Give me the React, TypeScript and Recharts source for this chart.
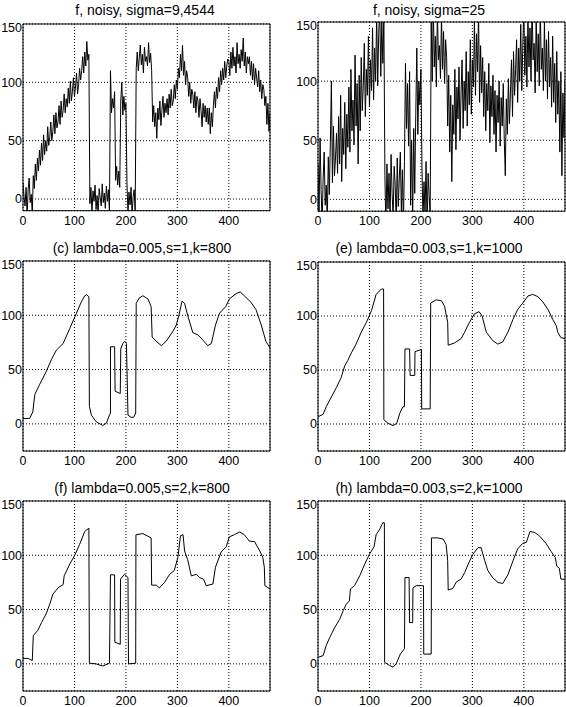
import { LineChart, Line, XAxis, YAxis, CartesianGrid, ReferenceArea } from 'recharts';

// noisy signals, sampled every 2 units on x (0..480)
const noisyStep = 2;
const noisyLow = [
  14, 2, -6, 10, -14, 8, 18, -3, 4, -12, 20, 9, 30, 16, 35, 24, 42, 29, 48, 33,
  55, 38, 50, 41, 62, 46, 53, 66, 50, 58, 72, 56, 74, 61, 66, 80, 64, 84, 70, 76,
  90, 74, 86, 79, 95, 82, 101, 84, 92, 104, 88, 96, 108, 90, 98, 112, 102, 110, 122, 108,
  126, 114, 135, 119, 124, -4, 10, -12, 7, -2, 12, -9, 3, -14, 9, 1, -6, 13, -3, 5,
  -8, 11, -2, 8, -11, 110, 74, 86, 78, 92, 16, 28, 12, 24, 10, 84, 100, 72, 88, 76,
  82, 14, -12, 6, -5, 10, -14, 2, 8, -11, 112, 126, 110, 121, 132, 115, 124, 108, 130, 118,
  122, 114, 134, 117, 125, 110, 66, 80, 62, 74, 52, 78, 68, 84, 63, 76, 88, 70, 82, 74,
  86, 72, 90, 78, 94, 80, 84, 98, 86, 102, 94, 112, 104, 124, 110, 132, 106, 118, 98, 110,
  104, 88, 100, 82, 94, 90, 78, 92, 74, 88, 84, 70, 86, 76, 62, 82, 70, 80, 66, 78,
  64, 78, 56, 74, 62, 80, 92, 78, 96, 86, 104, 92, 110, 98, 112, 102, 118, 104, 114, 120,
  118, 106, 126, 112, 130, 114, 122, 108, 134, 116, 124, 112, 128, 118, 138, 114, 126, 108, 122, 116,
  122, 106, 118, 102, 116, 98, 112, 104, 96, 110, 92, 102, 86, 98, 94, 80, 88, 64, 82, 58,
  74,
];
const noisyHigh = [
  30, -15, 52, 8, -22, 18, 40, -5, 12, -18, 36, 4, 48, 100, 14, 62, 20, 35, 56, 22,
  70, 30, 88, 15, 60, 38, 82, 26, 72, 44, 95, 40, 110, 58, 84, 46, 122, 62, 98, 30,
  105, 58, 120, 75, 96, 132, 70, 110, 88, 138, 78, 118, 92, 145, 84, 128, 100, 158, 96, 140,
  162, 104, 150, 115, 155, 20, -25, 30, -8, 22, -18, 38, 5, -15, 28, 12, -20, 35, -6, 18,
  40, -12, 25, -22, 32, 115, 60, 98, 45, 108, -5, 50, -15, 60, 5, 72, 128, 55, 100, 80,
  110, 28, -18, 15, -12, 32, -25, 22, 3, -14, 150, 100, 165, 112, 138, 95, 160, 118, 130, 102,
  155, 110, 142, 98, 135, 120, 62, 105, 40, 88, 15, 80, 55, 110, 42, 95, 68, 112, 50, 90,
  118, 60, 100, 75, 125, 62, 108, 80, 135, 72, 118, 95, 152, 88, 140, 108, 158, 82, 130, 90,
  120, 70, 108, 58, 98, 75, 115, 48, 96, 70, 105, 55, 92, 40, 88, 65, 100, 45, 86, 62,
  98, 50, 20, 85, 55, 102, 64, 90, 118, 70, 125, 88, 110, 135, 82, 128, 100, 148, 92, 130,
  160, 105, 138, 95, 155, 112, 145, 100, 168, 118, 132, 90, 155, 108, 140, 96, 162, 110, 128, 92,
  150, 100, 135, 85, 142, 95, 120, 78, 138, 82, 115, 65, 125, 72, 100, 40, 108, 20, 90, 52,
  100,
];

// smoothed results
const cX = [0, 13, 19, 23, 32, 45, 55, 65, 78, 91, 104, 113, 120, 124, 128, 129, 133, 142, 155, 162, 168, 170, 170, 178, 179, 189, 190, 194, 198, 201, 204, 210, 215, 219, 220, 226, 233, 243, 249, 251, 259, 269, 278, 291, 298, 303, 309, 314, 320, 330, 340, 350, 359, 366, 374, 382, 394, 401, 414, 422, 430, 443, 453, 463, 472, 480];
const cY = [5, 5, 11, 27, 36, 48, 59, 68, 74, 88, 102, 112, 118, 119, 117, 16, 8, 2, -1.5, 0.6, 8, 10, 71, 71, 30, 28, 69, 74, 76, 74, 8, 6, 6, 10, 111, 116, 118, 115, 108, 80, 76, 72, 76, 85, 91, 100, 113, 111, 100, 84, 82, 77, 72, 74, 91, 102, 108, 115, 120, 121.5, 118, 112, 105, 91, 76, 70];

const eX = [0, 10, 16, 26, 36, 45, 52, 58, 65, 74, 84, 94, 104, 113, 123, 127.5, 128, 136, 146, 153, 159, 165, 168, 169, 178, 179, 188, 188.5, 201, 201.5, 218, 219, 230, 240, 246, 252, 253, 265, 278, 285, 293, 304, 313, 319, 327, 340, 349.5, 359, 369, 379, 388, 398, 408, 417, 427, 437, 447, 456, 463, 466, 472, 480];
const eY = [6.7, 9, 16, 25, 34, 43, 54, 59, 66, 74, 85, 94, 105, 120, 125, 125, 4, 0.6, -1.5, 0.6, 10, 16, 16, 69.5, 69.5, 45, 45, 67, 69, 14, 14, 112, 115, 114, 109, 94, 73, 75, 79, 85, 93, 102, 104, 100, 85, 77, 74, 76, 85, 97, 106, 112, 118.5, 120, 118, 113, 106, 97, 91, 85, 80, 79];

const fX = [0, 10, 18, 20, 29, 36, 45, 52, 58, 68, 78, 80, 91, 100, 110, 120, 128, 129, 142, 155, 168, 170, 178, 178.5, 189, 189.5, 197, 204, 205, 219, 219.5, 233, 249, 250, 259, 265, 275, 285, 294, 301, 306, 311, 314, 320, 327, 337, 343, 351, 356, 369, 374, 385, 395, 401, 411, 421, 430, 440, 450, 460, 466, 469, 470, 480];
const fY = [5, 5, 3, 26, 31, 38, 46, 55, 64, 70, 73, 81, 92, 99.5, 110, 122, 125, 0.6, 0, -2, 0.6, 82, 82, 20, 18, 78, 82.5, 79.5, 0, 0.6, 119, 120, 116, 72.5, 72.5, 70, 75, 82.5, 86, 98, 118, 119, 104, 96, 81, 82.5, 79.5, 78, 72, 73.5, 89, 103, 108, 117, 119, 121.5, 119, 113, 112.6, 104, 98, 89, 72, 69];

const hX = [0, 10, 16, 23, 32, 42, 49, 55, 61, 63, 71, 81, 91, 100, 109, 113, 120, 126, 129, 129.5, 139, 146, 152, 160, 168, 169, 177, 178, 184, 184.5, 191, 201, 205, 205.5, 220, 220.5, 233, 243, 249, 252, 253, 262, 269, 278, 285, 293, 301, 311, 317, 324, 330, 340, 350, 359, 369, 379, 388, 398, 405, 412, 421, 430, 443, 453, 461, 464, 469, 472, 480];
const hY = [6, 7.6, 17, 24.5, 33, 41, 49, 55, 58, 69, 72, 81, 92, 101, 108, 119, 124, 130, 130, 1.5, -1.5, -3, 0, 9, 14, 79.5, 79.5, 38, 38, 70, 72, 72, 72, 9, 9, 116, 116, 115, 110, 95, 68, 69.5, 75.6, 78, 84, 93, 101, 107, 107, 95, 86, 79, 75, 74, 82, 95, 106, 111, 112, 122, 121, 118, 111, 103.5, 98, 90, 88, 78, 78];

const xTicks = [0, 100, 200, 300, 400];
const yTicks = [0, 50, 100, 150];
const xMax = 480;
const yMax = 150;

const FONT = '"Liberation Sans", Arial, Helvetica, sans-serif';
const Y_W = 30;
const M_TOP = 4;
const M_RIGHT = 1;
const X_H = 22;
const PLOT_W = 247;

type Row = { x: number; y: number };

const pairs = (xs: number[], ys: number[]): Row[] => xs.map((x, i) => ({ x, y: ys[i] }));
const sampled = (ys: number[]): Row[] => ys.map((y, i) => ({ x: i * noisyStep, y }));

interface PanelProps {
  title: string;
  data: Row[];
  left: number;
  top: number;
  bottom: number;
  yMin: number;
  titleX: number;
  titleY: number;
}

function Panel({ title, data, left, top, bottom, yMin, titleX, titleY }: PanelProps) {
  const plotH = bottom - top;
  const tickStyle = { fontSize: 12.5, fill: '#000', fontFamily: FONT };
  return (
    <>
      <div
        style={{
          position: 'absolute',
          left: titleX - 150,
          top: titleY - 8,
          width: 300,
          textAlign: 'center',
          fontSize: 14,
          lineHeight: '16px',
          fontFamily: FONT,
          color: '#000',
          whiteSpace: 'nowrap',
        }}
      >
        {title}
      </div>
      <div style={{ position: 'absolute', left: left - Y_W, top: top - M_TOP }}>
        <LineChart
          width={Y_W + PLOT_W + M_RIGHT}
          height={M_TOP + plotH + X_H}
          data={data}
          margin={{ top: M_TOP, right: M_RIGHT, left: 0, bottom: 0 }}
        >
          <CartesianGrid stroke="#000" strokeDasharray="1 2" strokeWidth={1} />
          <XAxis
            type="number"
            dataKey="x"
            domain={[0, xMax]}
            ticks={xTicks}
            allowDataOverflow
            height={X_H}
            tickLine={false}
            tickSize={5}
            tickMargin={0}
            axisLine={false}
            tick={tickStyle}
          />
          <YAxis
            type="number"
            domain={[yMin, yMax]}
            ticks={yTicks}
            allowDataOverflow
            width={Y_W}
            tickLine={false}
            tickSize={1}
            tickMargin={0}
            axisLine={false}
            tick={tickStyle}
          />
          <Line
            type="linear"
            dataKey="y"
            stroke="#000"
            strokeWidth={1}
            dot={false}
            isAnimationActive={false}
          />
          <ReferenceArea
            x1={0}
            x2={xMax}
            y1={yMin}
            y2={yMax}
            fill="none"
            stroke="#000"
            strokeWidth={1}
            ifOverflow="visible"
          />
        </LineChart>
      </div>
    </>
  );
}

export default function App() {
  return (
    <div
      style={{
        position: 'absolute',
        left: 0,
        top: 0,
        width: 566,
        height: 707,
        overflow: 'hidden',
        background: '#fff',
      }}
    >
      <Panel title="f, noisy, sigma=9,4544" data={sampled(noisyLow)} left={23} top={24} bottom={210.7} yMin={-10} titleX={145} titleY={10} />
      <Panel title="f, noisy, sigma=25" data={sampled(noisyHigh)} left={318} top={21.5} bottom={210.7} yMin={-10} titleX={429} titleY={10} />
      <Panel title="(c) lambda=0.005,s=1,k=800" data={pairs(cX, cY)} left={23} top={261} bottom={451} yMin={-25} titleX={142} titleY={247.5} />
      <Panel title="(e) lambda=0.003,s=1,k=1000" data={pairs(eX, eY)} left={318} top={262} bottom={451} yMin={-25} titleX={429} titleY={247.5} />
      <Panel title="(f) lambda=0.005,s=2,k=800" data={pairs(fX, fY)} left={23} top={501} bottom={691} yMin={-25} titleX={142} titleY={487.5} />
      <Panel title="(h) lambda=0.003,s=2,k=1000" data={pairs(hX, hY)} left={318} top={501} bottom={691} yMin={-25} titleX={429} titleY={487.5} />
    </div>
  );
}
